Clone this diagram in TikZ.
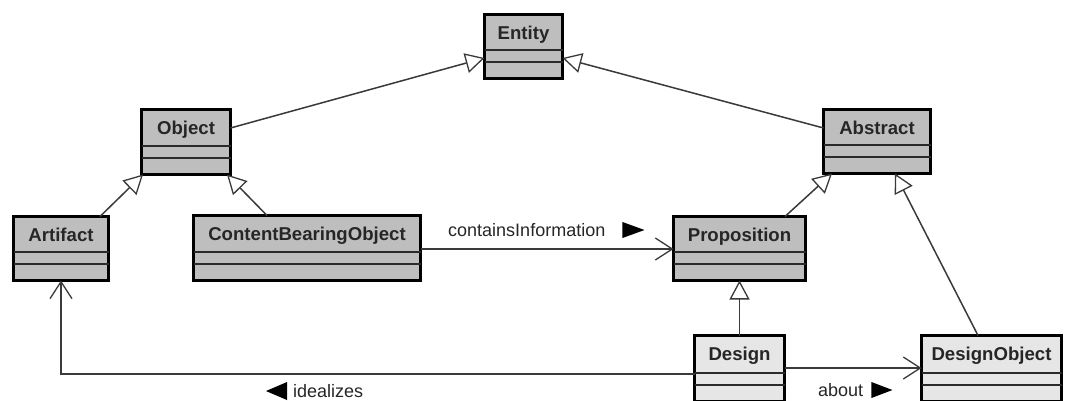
\documentclass[tikz,border=0pt]{standalone}
\usepackage{fontspec}
\setmainfont{Liberation Sans}
\usetikzlibrary{arrows.meta,calc}
\definecolor{clsdark}{HTML}{BEBEBE}
\definecolor{clslight}{HTML}{E6E6E6}
\definecolor{wire}{HTML}{3A3A3A}
\definecolor{sepline}{HTML}{2A2A2A}

% UML class box: name, left, top, width, height, fill, title
\newcommand\classbox[7]{%
  \node[cls, fill=#6, minimum width=#4pt, minimum height=#5pt,
        text depth=\the\numexpr#5-25\relax pt] (#1) at (#2,#3) {#7};
  \draw[sepline] ($(#1.south west)+(0,-28.5)$) -- ($(#1.south east)+(0,-28.5)$);
  \draw[sepline] ($(#1.south west)+(0,-16.5)$) -- ($(#1.south east)+(0,-16.5)$);
}

\begin{document}
\begin{tikzpicture}[x=1pt,y=-1pt,
  cls/.style={draw=black, line width=3pt, rectangle, inner sep=0pt, outer sep=0pt,
    anchor=north west, text height=25pt,
    font=\fontsize{18.6}{20}\selectfont\bfseries, text=black!85},
  sepline/.style={draw=sepline, line width=2pt},
  isa/.style={draw=wire, line width=1.5pt,
    -{Triangle[length=19pt, width=20pt, fill=white, line width=1.3pt]}},
  assoc/.style={draw=wire, line width=1.5pt,
    -{Straight Barb[length=17pt, width=22pt, line width=1.3pt]}},
  lbl/.style={inner sep=0pt, font=\fontsize{18}{20}\selectfont, text=black!85},
  marker/.style={fill=black}]

\fill[white] (0,0) rectangle (1065,400);
\useasboundingbox (0,0) rectangle (1065,400);

% class boxes
\classbox{ent}{484.5}{14.5}{78}{64}{clsdark}{Entity}
\classbox{obj}{141.5}{109.5}{89}{65}{clsdark}{Object}
\classbox{abs}{823.5}{109.5}{107}{64}{clsdark}{Abstract}
\classbox{art}{13.5}{216.5}{95}{64}{clsdark}{Artifact}
\classbox{cbo}{193.5}{215.5}{227}{65}{clsdark}{ContentBearingObject}
\classbox{prop}{673.5}{216.5}{132}{64}{clsdark}{Proposition}
\classbox{des}{694.5}{335.5}{90}{66}{clslight}{Design}
\classbox{dobj}{921.5}{335.5}{140}{66}{clslight}{DesignObject}

% generalisations
\draw[isa] ($(obj.north east)+(0,18.5)$) -- ($(ent.north west)+(0,43.5)$);
\draw[isa] ($(abs.north west)+(0,18.5)$) -- ($(ent.north east)+(0,43.5)$);
\draw[isa] ($(art.north east)+(-8.5,0)$) -- ($(obj.south west)+(1.5,0)$);
\draw[isa] ($(cbo.north west)+(73.5,0)$) -- ($(obj.south east)+(-3.5,0)$);
\draw[isa] ($(prop.north east)+(-20.5,0)$) -- ($(abs.south west)+(8.5,0)$);
\draw[isa] ($(dobj.north west)+(56.5,0)$) -- ($(abs.south west)+(71.5,0)$);
\draw[isa] (des.north) -- (des.north |- prop.south);

% associations
\draw[assoc] ($(cbo.north east)+(0,33.5)$) -- ($(prop.north west)+(0,32.5)$);
\draw[assoc] ($(des.north east)+(0,32.5)$) -- ($(dobj.north west)+(0,32.5)$);
\draw[assoc] ($(des.north west)+(0,38.5)$) -| (art.south);

% association labels with direction markers
\node[lbl, anchor=west] (lci) at (448,230) {containsInformation};
\fill[marker] ($(lci.east)+(17,-8)$) -- ++(22,8) -- ++(-22,8) -- cycle;
\node[lbl, anchor=west] (lab) at (818,390) {about};
\fill[marker] ($(lab.east)+(8,-8)$) -- ++(21,8) -- ++(-21,8) -- cycle;
\node[lbl, anchor=west] (lid) at (293,391) {idealizes};
\fill[marker] ($(lid.west)+(-6,-9)$) -- ++(-21,9) -- ++(21,9) -- cycle;
\end{tikzpicture}
\end{document}
